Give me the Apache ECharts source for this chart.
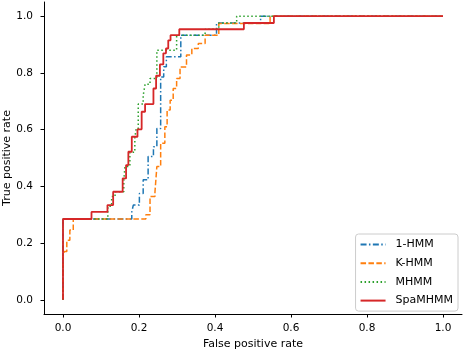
<!DOCTYPE html>
<html>
<head>
<meta charset="utf-8">
<script src="https://cdn.jsdelivr.net/npm/echarts@6/dist/echarts.min.js"></script>
<style>
  html, body { margin: 0; padding: 0; background: #fff; }
  #chart { width: 466px; height: 350px; }
</style>
</head>
<body>
<div id="chart"></div>
<script>
// ROC curves (step curves, corners after each jump)
var tickValues = [0, 0.2, 0.4, 0.6, 0.8, 1.0];

var hmm1Fpr = [0, 0, 0.181, 0.185, 0.201, 0.211, 0.224, 0.238, 0.247, 0.257, 0.265, 0.272, 0.31, 0.404, 0.52, 1];
var hmm1Tpr = [0, 0.285, 0.31, 0.334, 0.375, 0.423, 0.505, 0.54, 0.604, 0.786, 0.822, 0.857, 0.933, 0.976, 1, 1];

var khmmFpr = [0, 0, 0.004, 0.01, 0.018, 0.027, 0.218, 0.229, 0.242, 0.247, 0.257, 0.268, 0.274, 0.282, 0.29, 0.299, 0.308, 0.325, 0.339, 0.356, 0.374, 0.41, 0.545, 1];
var khmmTpr = [0, 0.16, 0.17, 0.21, 0.246, 0.285, 0.3, 0.364, 0.38, 0.47, 0.552, 0.61, 0.669, 0.704, 0.745, 0.78, 0.821, 0.863, 0.886, 0.904, 0.933, 0.974, 1, 1];

var mhmmFpr = [0, 0, 0.118, 0.128, 0.137, 0.16, 0.163, 0.176, 0.189, 0.192, 0.198, 0.211, 0.216, 0.229, 0.247, 0.299, 0.374, 0.41, 0.457, 1];
var mhmmTpr = [0, 0.285, 0.33, 0.364, 0.381, 0.42, 0.47, 0.52, 0.57, 0.6, 0.69, 0.72, 0.76, 0.78, 0.88, 0.933, 0.954, 0.976, 1, 1];

var spaFpr = [0, 0, 0.075, 0.117, 0.132, 0.157, 0.166, 0.172, 0.181, 0.196, 0.207, 0.216, 0.238, 0.245, 0.255, 0.264, 0.271, 0.277, 0.283, 0.306, 0.476, 0.555, 1];
var spaTpr = [0, 0.285, 0.31, 0.334, 0.381, 0.428, 0.475, 0.522, 0.575, 0.601, 0.663, 0.69, 0.745, 0.79, 0.83, 0.869, 0.886, 0.915, 0.933, 0.954, 0.976, 1, 1];

function pairs(xs, ys) {
    var out = [];
    xs.forEach(function(x, i) {
        out.push([x, ys[i]]);
    });
    return out;
}

var font = 'DejaVu Sans';

function axis(name, gap, labelMargin) {
    return {
        type: 'value',
        min: -0.05,
        max: 1.05,
        name: name,
        nameLocation: 'middle',
        nameGap: gap,
        nameMoveOverlap: false,
        nameTextStyle: { fontFamily: font, fontSize: 11, color: '#000' },
        axisLine: { show: true, onZero: false, lineStyle: { color: '#000', width: 1 } },
        axisTick: { show: true, length: 3.5, customValues: tickValues, lineStyle: { color: '#000' } },
        axisLabel: {
            customValues: tickValues,
            fontFamily: font, fontSize: 10.5, color: '#000', margin: labelMargin,
            formatter: function(v) { return v.toFixed(1); }
        },
        splitLine: { show: false }
    };
}

function curve(name, xs, ys, color, type, width) {
    return {
        name: name,
        type: 'line',
        step: 'end',
        data: pairs(xs, ys),
        symbol: 'none',
        lineStyle: { color: color, type: type, width: width },
        itemStyle: { color: color }
    };
}

var chart = echarts.init(document.getElementById('chart'));

option = {
    animation: false,
    grid: { left: 44, right: 4, top: 2, bottom: 36, containLabel: false, outerBoundsMode: 'none' },
    xAxis: axis('False positive rate', 25, 9),
    yAxis: axis('True positive rate', 31, 11),
    legend: {
        orient: 'vertical',
        right: 8,
        top: 234,
        itemWidth: 25,
        itemHeight: 10,
        itemGap: 7.7,
        padding: [5, 5, 5, 4],
        backgroundColor: 'rgba(255,255,255,0.8)',
        borderColor: '#cccccc',
        borderWidth: 1,
        borderRadius: 3,
        // hide the circle that line series put on their legend icon
        itemStyle: { opacity: 0, color: 'transparent', borderWidth: 0 },
        textStyle: { fontFamily: font, fontSize: 11, color: '#000', lineHeight: 10, padding: [0, 0, 0, 5] },
        data: ['1-HMM', 'K-HMM', 'MHMM', 'SpaMHMM']
    },
    series: [
        curve('1-HMM', hmm1Fpr, hmm1Tpr, '#1f77b4', [6, 2.4, 1.5, 2.4], 1.5),
        curve('K-HMM', khmmFpr, khmmTpr, '#ff7f0e', [5.5, 2.4], 1.5),
        curve('MHMM', mhmmFpr, mhmmTpr, '#2ca02c', [1.5, 2.5], 1.5),
        curve('SpaMHMM', spaFpr, spaTpr, '#d62728', 'solid', 1.8)
    ]
};

chart.setOption(option);
</script>
</body>
</html>
